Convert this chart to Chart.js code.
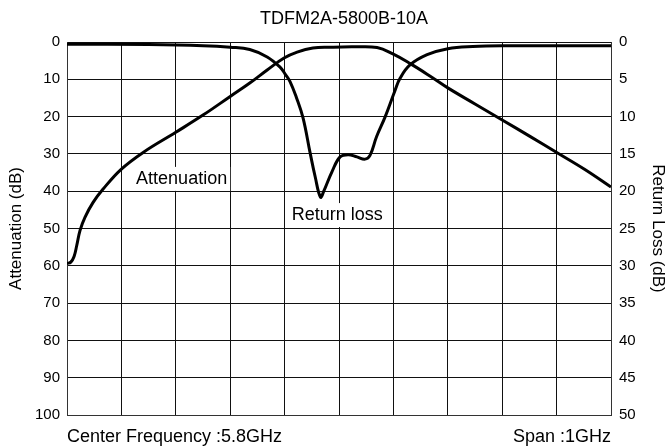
<!DOCTYPE html>
<html>
<head>
<meta charset="utf-8">
<style>
  html, body { margin: 0; padding: 0; background: #fff; }
  #wrap { width: 672px; height: 448px; }
</style>
</head>
<body>
<div id="wrap"><canvas id="chart" width="672" height="448"></canvas></div>

<script src="https://cdn.jsdelivr.net/npm/chart.js"></script>

<script>
const chartTitle = 'TDFM2A-5800B-10A';

// frequency in MHz (span 5300 - 6300)
const attFreq = [5300, 5307, 5313, 5318, 5324, 5333, 5348, 5366, 5399, 5440, 5500, 5550, 5600, 5636, 5668, 5699, 5723, 5752, 5783, 5829, 5870, 5899, 5931, 5967, 6000, 6050, 6100, 6151, 6201, 6252, 6300];
const attValues = [59.4, 59.0, 57.5, 54.5, 50.5, 47, 43, 39.5, 34.2, 29.6, 24.2, 19.6, 14.6, 11, 7.5, 4.3, 2.7, 1.6, 1.4, 1.3, 1.5, 3.2, 5.8, 9.1, 12.3, 16.6, 20.9, 25.3, 29.7, 34.2, 38.9];

const rlFreq = [5300, 5450, 5550, 5600, 5636, 5668, 5692, 5701, 5710, 5722, 5734, 5747, 5756, 5766, 5772, 5787, 5802, 5817, 5833, 5848, 5857, 5869, 5885, 5903, 5912, 5930, 5962, 6000, 6046, 6100, 6300];
const rlValues = [0.3, 0.35, 0.5, 0.7, 1.0, 2.0, 3.4, 4.3, 5.3, 7.5, 10.2, 14.9, 18, 20.8, 20.0, 17.4, 15.4, 15.1, 15.4, 15.7, 15.2, 12.7, 10, 6.5, 4.9, 3.1, 1.7, 0.9, 0.6, 0.5, 0.5];

const attTicks = [0, 100, 10];   // min, max, step
const rlTicks = [0, 50, 5];

// curve labels, placed in data units
const curveLabels = [
  { text: 'Attenuation', x: 5427, y: 36.7 },
  { text: 'Return loss', x: 5713, y: 46.4 }
];
const footLeft = 'Center Frequency :5.8GHz';
const footRight = 'Span :1GHz';

const FONT = '"Liberation Sans", Arial, Helvetica, sans-serif';
Chart.defaults.font.family = FONT;
Chart.defaults.color = '#000';

const textPlugin = {
  id: 'textPlugin',
  beforeDatasetsDraw(chart) {
    const ctx = chart.ctx;
    const xs = chart.scales.x, ys = chart.scales.yAtt;
    ctx.save();
    ctx.font = '18px ' + FONT;
    ctx.textBaseline = 'middle';
    ctx.textAlign = 'left';
    curveLabels.forEach(l => {
      const px = xs.getPixelForValue(l.x);
      const py = ys.getPixelForValue(l.y);
      const w = ctx.measureText(l.text).width;
      ctx.fillStyle = '#fff';
      ctx.fillRect(px - 3, py - 12, w + 6, 24);
      ctx.fillStyle = '#000';
      ctx.fillText(l.text, px, py);
    });
    ctx.restore();
  },
  afterDraw(chart) {
    const ctx = chart.ctx;
    const a = chart.chartArea;
    ctx.save();
    ctx.fillStyle = '#000';
    ctx.font = '18px ' + FONT;
    ctx.textBaseline = 'middle';
    ctx.textAlign = 'center';
    ctx.fillText(chartTitle, (a.left + a.right) / 2 + 5, 19);
    ctx.textAlign = 'left';
    ctx.fillText(footLeft, a.left, a.bottom + 22);
    ctx.textAlign = 'right';
    ctx.fillText(footRight, a.right, a.bottom + 22);
    ctx.restore();
  }
};

new Chart(document.getElementById('chart'), {
  type: 'line',
  data: {
    datasets: [
      {
        label: 'Attenuation',
        data: attFreq.map((f, i) => ({ x: f, y: attValues[i] })),
        yAxisID: 'yAtt',
        borderColor: '#000',
        borderWidth: 3,
        pointRadius: 0,
        fill: false,
        tension: 0.4
      },
      {
        label: 'Return loss',
        data: rlFreq.map((f, i) => ({ x: f, y: rlValues[i] })),
        yAxisID: 'yRL',
        borderColor: '#000',
        borderWidth: 3,
        pointRadius: 0,
        fill: false,
        tension: 0.4
      }
    ]
  },
  options: {
    responsive: false,
    animation: false,
    layout: { padding: { top: 42, left: 0, right: 0, bottom: 0 } },
    plugins: {
      legend: { display: false },
      title: { display: false },
      tooltip: { enabled: false }
    },
    scales: {
      x: {
        type: 'linear',
        min: 5300,
        max: 6300,
        ticks: { display: false, stepSize: 100 },
        grid: { color: '#111', lineWidth: 1, drawTicks: false },
        border: { color: '#333', width: 1 },
        afterFit(s) { s.height = 33; }
      },
      yAtt: {
        position: 'left',
        reverse: true,
        min: attTicks[0],
        max: attTicks[1],
        ticks: { stepSize: attTicks[2], padding: 7, font: { size: 15 }, color: '#000' },
        grid: { color: '#111', lineWidth: 1, drawTicks: false },
        border: { color: '#333', width: 1 },
        title: { display: true, text: 'Attenuation (dB)', font: { size: 17 }, color: '#000', padding: { top: 6, bottom: 4 } },
        afterFit(s) { s.width = 67; }
      },
      yRL: {
        position: 'right',
        reverse: true,
        min: rlTicks[0],
        max: rlTicks[1],
        ticks: { stepSize: rlTicks[2], padding: 8, font: { size: 15 }, color: '#000' },
        grid: { display: false, drawTicks: false },
        border: { color: '#333', width: 1 },
        title: { display: true, text: 'Return Loss (dB)', font: { size: 17 }, color: '#000', padding: { top: 4, bottom: 4 } },
        afterFit(s) { s.width = 61; }
      }
    }
  },
  plugins: [textPlugin]
});
</script>
</body>
</html>
